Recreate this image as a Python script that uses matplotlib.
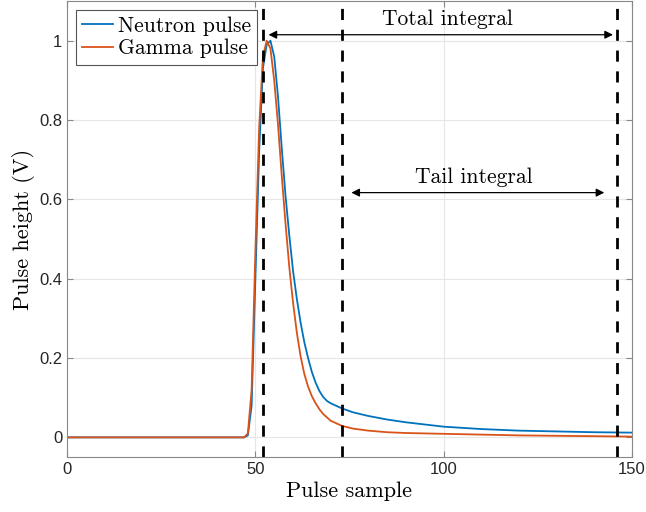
import matplotlib
matplotlib.use('Agg')
import matplotlib.pyplot as plt

# pulse samples and heights
n_x = [0, 47, 48, 49, 50, 51, 52, 53, 54, 55, 56, 57, 58, 59, 60, 61, 62, 63, 64, 65, 66,
       67, 68, 69, 70, 73, 76, 80, 85, 90, 100, 110, 120, 130, 140, 150]
n_y = [0, 0, 0.005, 0.08, 0.40, 0.72, 0.93, 0.99, 1.00, 0.96, 0.86, 0.73, 0.61, 0.51, 0.42,
       0.35, 0.29, 0.24, 0.20, 0.165, 0.138, 0.117, 0.102, 0.092, 0.086, 0.073, 0.063,
       0.054, 0.045, 0.038, 0.027, 0.021, 0.017, 0.015, 0.013, 0.012]

g_x = [0, 47, 48, 49, 50, 51, 52, 53, 54, 55, 56, 57, 58, 59, 60, 61, 62, 63, 64, 65, 66,
       67, 68, 70, 73, 76, 80, 85, 90, 100, 120, 150]
g_y = [0, 0, 0.01, 0.12, 0.47, 0.78, 0.96, 1.00, 0.98, 0.90, 0.79, 0.66, 0.54, 0.43, 0.34,
       0.265, 0.205, 0.16, 0.128, 0.104, 0.086, 0.071, 0.059, 0.042, 0.029, 0.022, 0.017,
       0.013, 0.011, 0.009, 0.005, 0.002]

cuts = [52, 73, 146]
total_span = (53.5, 145)
tail_span = (75.5, 142.7)

serif = 'cmr10'
blue = '#0072BD'
orange = '#D95319'

fig = plt.figure(figsize=(6.46, 5.12), dpi=100)
ax = fig.add_axes([0.104, 0.107, 0.874, 0.891])

ax.plot(n_x, n_y, color=blue, lw=1.3, label='Neutron pulse')
ax.plot(g_x, g_y, color=orange, lw=1.3, label='Gamma pulse')

for c in cuts:
    ax.axvline(c, color='black', ls=(0, (4, 3.5)), lw=2)

arr = dict(arrowstyle='<|-|>', color='black', lw=0.9, mutation_scale=12,
           shrinkA=0, shrinkB=0)
ax.annotate('', xy=(total_span[0], 1.015), xytext=(total_span[1], 1.015), arrowprops=arr)
ax.text(101, 1.055, 'Total integral', ha='center', va='center', fontsize=15.5, family=serif)
ax.annotate('', xy=(tail_span[0], 0.617), xytext=(tail_span[1], 0.617), arrowprops=arr)
ax.text(108, 0.656, 'Tail integral', ha='center', va='center', fontsize=15.5, family=serif)

ax.set_xlim(0, 150)
ax.set_ylim(-0.05, 1.1)
ax.set_xticks([0, 50, 100, 150])
ax.set_yticks([0, 0.2, 0.4, 0.6, 0.8, 1])
ax.set_yticklabels(['0', '0.2', '0.4', '0.6', '0.8', '1'])
ax.grid(True, color='#e6e6e6', lw=0.8)
ax.set_axisbelow(True)
ax.tick_params(direction='in', length=4, color='#888888', labelsize=12,
               labelcolor='#262626', top=True, right=True)
for tl in ax.get_xticklabels() + ax.get_yticklabels():
    tl.set_family('Liberation Sans')
for s in ax.spines.values():
    s.set_color('#888888')
    s.set_linewidth(0.8)

ax.set_xlabel('Pulse sample', fontsize=16, family=serif, labelpad=3)
ax.set_ylabel('Pulse height (V)', fontsize=16, family=serif, labelpad=3)

leg = ax.legend(loc='upper left', prop={'family': serif, 'size': 15.5}, fancybox=False,
                framealpha=1, edgecolor='#555555', borderpad=0.3, handlelength=1.45,
                handletextpad=0.2, labelspacing=0.15, borderaxespad=0.4)
leg.get_frame().set_linewidth(0.8)

fig.savefig('out.png', dpi=100)
